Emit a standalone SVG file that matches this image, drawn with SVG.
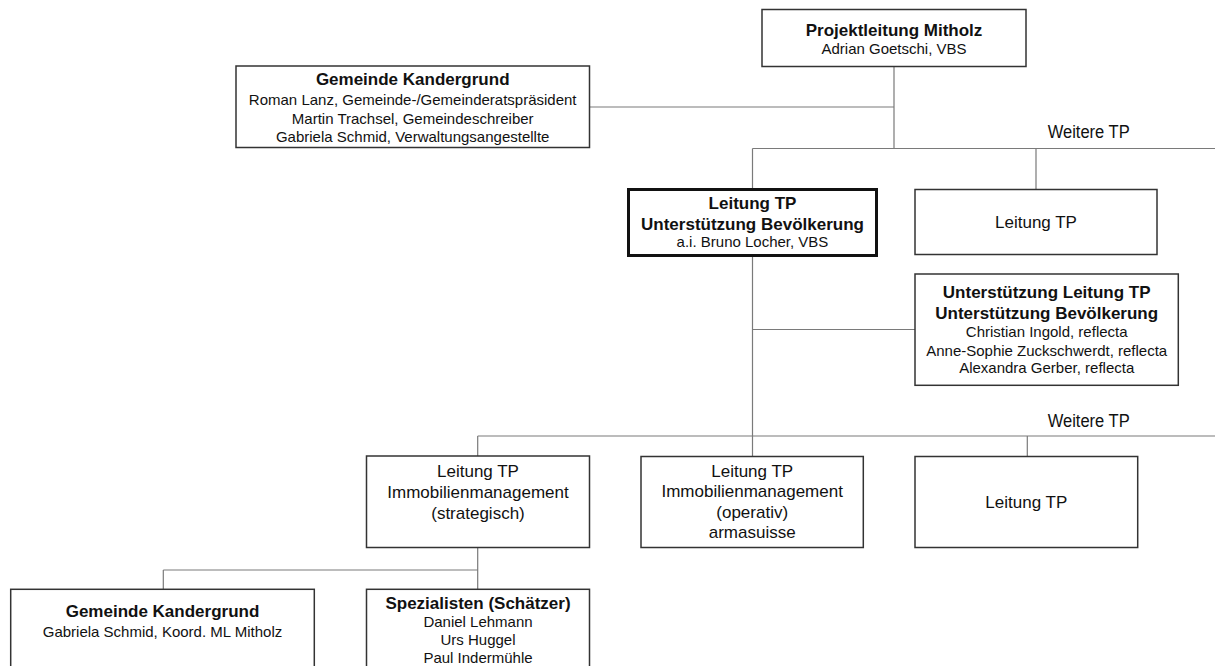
<svg xmlns="http://www.w3.org/2000/svg" width="1215" height="666" viewBox="0 0 1215 666">
<style>
.box{fill:#fff;stroke:#333;stroke-width:1.5}
.bold{fill:#fff;stroke:#111;stroke-width:3}
.con{fill:none;stroke:#7a7a7a;stroke-width:1.2}
text{font-family:"Liberation Sans",Arial,sans-serif;fill:#111;text-anchor:middle}
.b{font-weight:bold;font-size:17px}
.r{font-size:15px}
.m{font-size:17px}
.w{font-size:18px;text-anchor:start}
</style>
<rect width="1215" height="666" fill="#fff"/>
<g id="connectors">
<path class="con" d="M894 66.5V148M589.5 107H894M752.5 148.5H1215M752.5 148.5V189.5M1036 148.5V189.5M752.5 255V456.5M752.5 329.5H915M477.7 436H1215M477.7 436V456M1027.3 436V456.5M477.7 547.5V589.3M163.3 570H477.7M163.3 570V589.3"/>
</g>
<g id="weitere1"><text class="w" x="1047.7" y="138.3" textLength="82" lengthAdjust="spacingAndGlyphs">Weitere TP</text></g>
<g id="weitere2"><text class="w" x="1047.7" y="426.5" textLength="82" lengthAdjust="spacingAndGlyphs">Weitere TP</text></g>
<g id="projektleitung">
<rect class="box" x="762" y="9.5" width="264" height="57"/>
<text class="b" x="894" y="35.5">Projektleitung Mitholz</text>
<text class="r" x="894" y="54">Adrian Goetschi, VBS</text>
</g>
<g id="gemeinde-top">
<rect class="box" x="236" y="66" width="353.5" height="81.5"/>
<text class="b" x="412.7" y="85">Gemeinde Kandergrund</text>
<text class="r" x="412.7" y="105">Roman Lanz, Gemeinde-/Gemeinderatspräsident</text>
<text class="r" x="412.7" y="124">Martin Trachsel, Gemeindeschreiber</text>
<text class="r" x="412.7" y="142">Gabriela Schmid, Verwaltungsangestellte</text>
</g>
<g id="leitung-ub">
<rect class="bold" x="628.5" y="189.5" width="248" height="66"/>
<text class="b" x="752.5" y="209.3">Leitung TP</text>
<text class="b" x="752.5" y="230">Unterstützung Bevölkerung</text>
<text class="r" x="752.5" y="247.3">a.i. Bruno Locher, VBS</text>
</g>
<g id="leitung-tp-1">
<rect class="box" x="915" y="189.5" width="242" height="65"/>
<text class="m" x="1036" y="228">Leitung TP</text>
</g>
<g id="unterstuetzung">
<rect class="box" x="915" y="274" width="263.3" height="111.3"/>
<text class="b" x="1046.7" y="298.3">Unterstützung Leitung TP</text>
<text class="b" x="1046.7" y="319.3">Unterstützung Bevölkerung</text>
<text class="r" x="1046.7" y="337.3">Christian Ingold, reflecta</text>
<text class="r" x="1046.7" y="355.7">Anne-Sophie Zuckschwerdt, reflecta</text>
<text class="r" x="1046.7" y="373.3">Alexandra Gerber, reflecta</text>
</g>
<g id="strategisch">
<rect class="box" x="366.5" y="456" width="223" height="91.5"/>
<text class="m" x="478" y="477.3">Leitung TP</text>
<text class="m" x="478" y="498.3">Immobilienmanagement</text>
<text class="m" x="478" y="519">(strategisch)</text>
</g>
<g id="operativ">
<rect class="box" x="641" y="456.5" width="222.3" height="91"/>
<text class="m" x="752.2" y="476.7">Leitung TP</text>
<text class="m" x="752.2" y="497.3">Immobilienmanagement</text>
<text class="m" x="752.2" y="518.3">(operativ)</text>
<text class="m" x="752.2" y="538.3">armasuisse</text>
</g>
<g id="leitung-tp-2">
<rect class="box" x="915" y="456.5" width="222.7" height="91"/>
<text class="m" x="1026.3" y="508.3">Leitung TP</text>
</g>
<g id="gemeinde-bottom">
<rect class="box" x="10.7" y="589.3" width="303.6" height="110"/>
<text class="b" x="162.5" y="616.7">Gemeinde Kandergrund</text>
<text class="r" x="162.5" y="636.7">Gabriela Schmid, Koord. ML Mitholz</text>
</g>
<g id="spezialisten">
<rect class="box" x="366.5" y="589.3" width="223" height="110"/>
<text class="b" x="478" y="609.3">Spezialisten (Schätzer)</text>
<text class="r" x="478" y="627.3">Daniel Lehmann</text>
<text class="r" x="478" y="645">Urs Huggel</text>
<text class="r" x="478" y="662.7">Paul Indermühle</text>
</g>
</svg>
